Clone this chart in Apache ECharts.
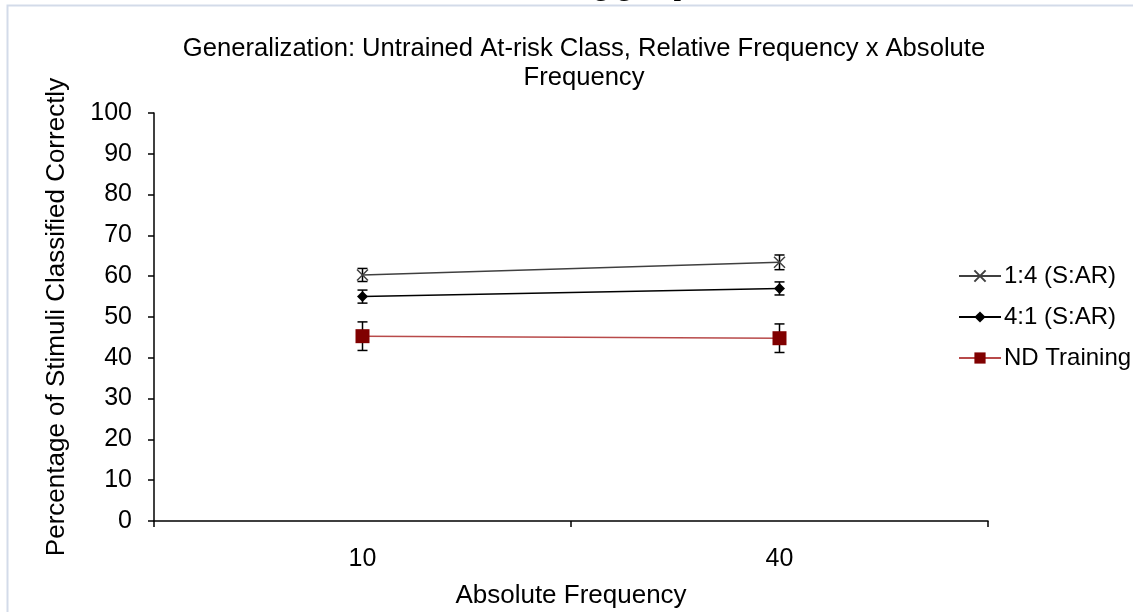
<!DOCTYPE html>
<html>
<head>
<meta charset="utf-8">
<script src="https://cdn.jsdelivr.net/npm/echarts@6/dist/echarts.min.js"></script>
<style>
  html, body { margin: 0; padding: 0; background: #fff; overflow: hidden; }
  #chart { width: 100vw; height: 100vh; }
</style>
</head>
<body>
<div id="chart"></div>
<script>
// Absolute frequency conditions
const categories = ['10', '40'];
// Percentage classified correctly, with standard error
const ratio14 = [60.3, 63.4];
const ratio14Err = [1.6, 1.8];
const ratio41 = [55.0, 57.0];
const ratio41Err = [1.6, 1.6];
const ndTraining = [45.3, 44.8];
const ndTrainingErr = [3.5, 3.5];
const yTicks = [0, 10, 20, 30, 40, 50, 60, 70, 80, 90, 100];

const FONT = '"Liberation Sans", Arial, sans-serif';

function errData(vals, errs) {
  return vals.map((v, i) => [i, v, errs[i]]);
}

function errorBars(name, vals, errs) {
  return {
    type: 'custom',
    name: name + ' err',
    z: 1,
    silent: true,
    data: errData(vals, errs),
    renderItem: function (params, api) {
      const i = api.value(0);
      const v = api.value(1);
      const e = api.value(2);
      const hi = api.coord([i, v + e]);
      const lo = api.coord([i, v - e]);
      const w = 5;
      const style = { stroke: '#000', lineWidth: 1.5, fill: 'none' };
      return {
        type: 'group',
        children: [
          { type: 'line', shape: { x1: hi[0], y1: hi[1], x2: lo[0], y2: lo[1] }, style },
          { type: 'line', shape: { x1: hi[0] - w, y1: hi[1], x2: hi[0] + w, y2: hi[1] }, style },
          { type: 'line', shape: { x1: lo[0] - w, y1: lo[1], x2: lo[0] + w, y2: lo[1] }, style }
        ]
      };
    }
  };
}

const chart = echarts.init(document.getElementById('chart'), null, { renderer: 'canvas' });

chart.setOption({
  backgroundColor: '#fff',
  animation: false,
  textStyle: { fontFamily: FONT, color: '#000' },
  graphic: [
    {
      type: 'rect',
      shape: { x: 7.5, y: 5.5, width: 1200, height: 700 },
      style: { fill: 'none', stroke: '#d3dbe9', lineWidth: 2 }
    },
    {
      type: 'text',
      left: 578,
      top: -30,
      style: { text: 'ng group', font: '31px "Liberation Serif", "Times New Roman", serif', fill: '#000' }
    }
  ],
  title: {
    text: 'Generalization: Untrained At-risk Class, Relative Frequency x Absolute\nFrequency',
    left: 584,
    textAlign: 'center',
    top: 34,
    padding: 0,
    textStyle: { fontFamily: FONT, fontSize: 25.6, fontWeight: 'normal', color: '#000', lineHeight: 29 }
  },
  legend: {
    orient: 'vertical',
    left: 958,
    top: 264,
    padding: 0,
    itemWidth: 42,
    itemHeight: 14,
    itemGap: 17,
    textStyle: { fontFamily: FONT, fontSize: 24, color: '#000', lineHeight: 24, padding: [0, 0, 0, -2] },
    data: ['1:4 (S:AR)', '4:1 (S:AR)', 'ND Training']
  },
  grid: { left: 154, width: 834, top: 113, height: 408, outerBoundsMode: 'none', containLabel: false },
  xAxis: {
    type: 'category',
    data: categories,
    boundaryGap: true,
    name: 'Absolute Frequency',
    nameLocation: 'middle',
    nameGap: 62,
    nameTextStyle: { fontFamily: FONT, fontSize: 26, color: '#000' },
    axisLine: { lineStyle: { color: '#000', width: 1.5 } },
    axisTick: { show: true, length: 6, lineStyle: { color: '#000', width: 1.5 } },
    axisLabel: { fontFamily: FONT, fontSize: 25, color: '#000', margin: 26 },
    splitLine: { show: false }
  },
  yAxis: {
    type: 'value',
    min: 0,
    max: 100,
    interval: 10,
    name: 'Percentage of Stimuli Classified Correctly',
    nameLocation: 'middle',
    nameGap: 84,
    nameTextStyle: { fontFamily: FONT, fontSize: 26, color: '#000' },
    axisLine: { show: true, lineStyle: { color: '#000', width: 1.5 } },
    axisTick: { show: true, length: 6, lineStyle: { color: '#000', width: 1.5 } },
    axisLabel: {
      fontFamily: FONT, fontSize: 25, color: '#000', margin: 22,
      formatter: v => (yTicks.indexOf(v) >= 0 ? String(v) : '')
    },
    splitLine: { show: false }
  },
  series: [
    errorBars('1:4 (S:AR)', ratio14, ratio14Err),
    errorBars('4:1 (S:AR)', ratio41, ratio41Err),
    errorBars('ND Training', ndTraining, ndTrainingErr),
    {
      name: '1:4 (S:AR)',
      type: 'line',
      z: 3,
      data: ratio14,
      symbol: 'path://M0,0L10,10M0,10L10,0',
      symbolSize: 11,
      showAllSymbol: true,
      lineStyle: { color: '#404040', width: 1.5 },
      itemStyle: { color: '#404040', borderColor: '#404040', borderWidth: 1.5 }
    },
    {
      name: '4:1 (S:AR)',
      type: 'line',
      z: 3,
      data: ratio41,
      symbol: 'diamond',
      symbolSize: 11,
      lineStyle: { color: '#000', width: 1.5 },
      itemStyle: { color: '#000' }
    },
    {
      name: 'ND Training',
      type: 'line',
      z: 3,
      data: ndTraining,
      symbol: 'rect',
      symbolSize: 14,
      lineStyle: { color: '#b84a4a', width: 1.5 },
      itemStyle: { color: '#800000' }
    }
  ]
});
</script>
</body>
</html>
